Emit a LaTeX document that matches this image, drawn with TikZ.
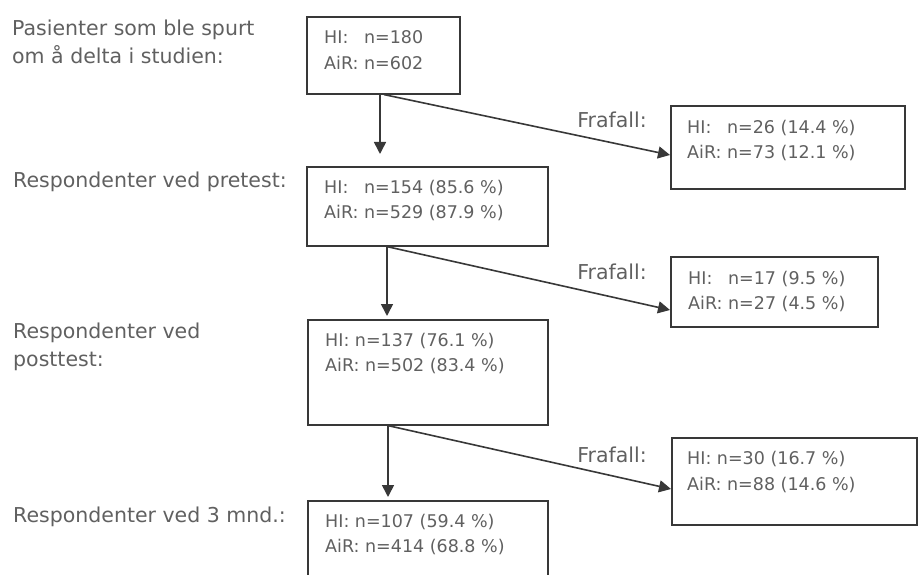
\documentclass[tikz,border=0pt]{standalone}
\usepackage{fontspec}
\setmainfont{DejaVu Sans}
\usetikzlibrary{arrows.meta}
\definecolor{txtgray}{HTML}{606060}
\definecolor{linegray}{HTML}{383838}

\tikzset{
	stage/.style={draw=linegray, line width=1.6pt, inner sep=0pt, anchor=north west},
	boxtext/.style={text=txtgray, align=left, anchor=west, inner sep=0pt, font=\fontsize{17.5}{25.5}\selectfont},
	sidetext/.style={text=txtgray, align=left, anchor=west, inner sep=0pt, font=\fontsize{20.5}{28}\selectfont},
	flow/.style={draw=linegray, line width=1.6pt, -{Triangle[length=12pt,width=12pt]}},
}
\newcommand{\hilab}{\rlap{HI:}\phantom{AiR:}}

\begin{document}
\begin{tikzpicture}[x=1pt,y=-1pt]
			\useasboundingbox (0,0) rectangle (918,575);
			\node[stage, minimum width=153pt, minimum height=77pt] (b1) at (306,16) {};
			\node[stage, minimum width=241pt, minimum height=79pt] (b2) at (306,166) {};
			\node[stage, minimum width=240pt, minimum height=105pt] (b3) at (307,319) {};
			\node[stage, minimum width=240pt, minimum height=95pt] (b4) at (307,500) {};
			\node[stage, minimum width=234pt, minimum height=83pt] (d1) at (670,105) {};
			\node[stage, minimum width=207pt, minimum height=70pt] (d2) at (670,256) {};
			\node[stage, minimum width=245pt, minimum height=87pt] (d3) at (671,437) {};
			
			\node[boxtext] (t1) at (324,50) {\hilab{} n=180\\AiR: n=602};
			\node[boxtext] (t2) at (324,200.5) {\hilab{} n=154 (85.6 \%)\\AiR: n=529 (87.9 \%)};
			\node[boxtext] (t3) at (325,353.5) {HI: n=137 (76.1 \%)\\AiR: n=502 (83.4 \%)};
			\node[boxtext] (t4) at (325,534.5) {HI: n=107 (59.4 \%)\\AiR: n=414 (68.8 \%)};
			\node[boxtext] (u1) at (687,140.5) {\hilab{} n=26 (14.4 \%)\\AiR: n=73 (12.1 \%)};
			\node[boxtext] (u2) at (688,291.5) {\hilab{} n=17 (9.5 \%)\\AiR: n=27 (4.5 \%)};
			\node[boxtext] (u3) at (687,472) {HI: n=30 (16.7 \%)\\AiR: n=88 (14.6 \%)};
			
			\node[sidetext] (l1) at (12,41.5) {Pasienter som ble spurt\\om å delta i studien:};
			\node[sidetext] (l2) at (13,182) {Respondenter ved pretest:};
			\node[sidetext] (l3) at (13,347) {Respondenter ved\\posttest:};
			\node[sidetext] (l4) at (13,517) {Respondenter ved 3 mnd.:};
			\node[sidetext, anchor=center] (f1) at (612,120) {Frafall:};
			\node[sidetext, anchor=center] (f2) at (612,272) {Frafall:};
			\node[sidetext, anchor=center] (f3) at (612,455) {Frafall:};
			
			\coordinate (s1) at ([xshift=74pt]b1.south west);
			\coordinate (s2) at ([xshift=81pt]b2.south west);
			\coordinate (s3) at ([xshift=81pt]b3.south west);
			\draw[flow, shorten >=12pt] (s1) -- (s1 |- b2.north);
			\draw[flow] ([xshift=4pt]s1) -- ([yshift=-50pt]d1.north west);
			\draw[flow, shorten >=3pt] (s2) -- (s2 |- b3.north);
			\draw[flow] (s2) -- ([yshift=-54pt]d2.north west);
			\draw[flow, shorten >=3pt] (s3) -- (s3 |- b4.north);
			\draw[flow] (s3) -- ([yshift=-52pt]d3.north west);
\end{tikzpicture}
\end{document}
